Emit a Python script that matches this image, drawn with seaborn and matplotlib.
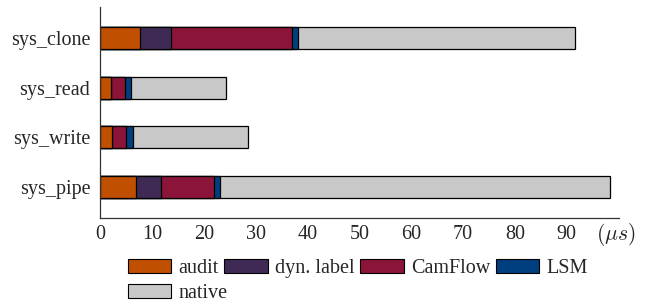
import numpy as np
import pandas as pd
import matplotlib
matplotlib.use('Agg')
import matplotlib.pyplot as plt
from matplotlib.patches import Patch
import seaborn as sns

# ── Data (segment widths in microseconds) ────────────────────
syscalls  = ['sys_clone', 'sys_read', 'sys_write', 'sys_pipe']
audit     = [7.75, 2.2, 2.4, 6.9]
dyn_label = [5.85, 0.0, 0.0, 4.8]
camflow   = [23.5, 2.7, 2.7, 10.2]
lsm       = [1.1, 1.1, 1.25, 1.3]
native    = [53.45, 18.3, 22.25, 75.1]

series_names  = ['audit', 'dyn. label', 'CamFlow', 'LSM', 'native']
series_colors = ['#C05000', '#3F2A56', '#8B1538', '#003F7F', '#C8C8C8']

df = pd.DataFrame({'syscall': syscalls, 'audit': audit, 'dyn. label': dyn_label,
                   'CamFlow': camflow, 'LSM': lsm, 'native': native})
cum = df[series_names].cumsum(axis=1)

sns.set_style('white')
plt.rcParams['font.family'] = ['Liberation Serif', 'DejaVu Serif']
plt.rcParams['mathtext.fontset'] = 'cm'

fig = plt.figure(figsize=(6.52, 3.03), dpi=100)
ax = fig.add_axes([0.1534, 0.2805, 0.7956, 0.6965])

# stacked bars: draw cumulative totals from the outermost segment inward
for name, color in reversed(list(zip(series_names, series_colors))):
    sns.barplot(x=cum[name], y=df['syscall'], orient='h', color=color,
                width=0.44, edgecolor='black', linewidth=0.9, ax=ax,
                saturation=1)

ax.set_xlim(0, 100)
ax.set_ylim(3.62, -0.62)
ax.set_xticks(np.arange(0, 100, 10))
ax.set_xlabel('')
ax.set_ylabel('')
ax.tick_params(axis='x', direction='in', length=7, width=0.6, color='#888888',
               labelsize=14.5, pad=5)
ax.tick_params(axis='y', length=0, labelsize=14.5, pad=7)
for side in ['top', 'right']:
    ax.spines[side].set_visible(False)
for side in ['left', 'bottom']:
    ax.spines[side].set_color('#333333')
    ax.spines[side].set_linewidth(0.9)

ax.text(99.5, -0.08, r'$(\mu s)$', transform=ax.get_xaxis_transform(),
        ha='center', va='center', fontsize=15.5)

# legend: four entries on the first line, "native" wraps to the second
color_of = dict(zip(series_names, series_colors))
def make_handles(names):
    return [Patch(facecolor=color_of[n], edgecolor='black', linewidth=0.8, label=n)
            for n in names]

legend_kw = dict(frameon=False, fontsize=14.5, handlelength=2.15, handleheight=0.7,
                 handletextpad=0.35, columnspacing=0.3, borderpad=0, borderaxespad=0)
fig.legend(handles=make_handles(series_names[:4]), ncol=4, loc='center left',
           bbox_to_anchor=(0.196, 0.113), **legend_kw)
fig.legend(handles=make_handles(series_names[4:]), ncol=1, loc='center left',
           bbox_to_anchor=(0.196, 0.03), **legend_kw)

fig.savefig('out.png', dpi=100)
